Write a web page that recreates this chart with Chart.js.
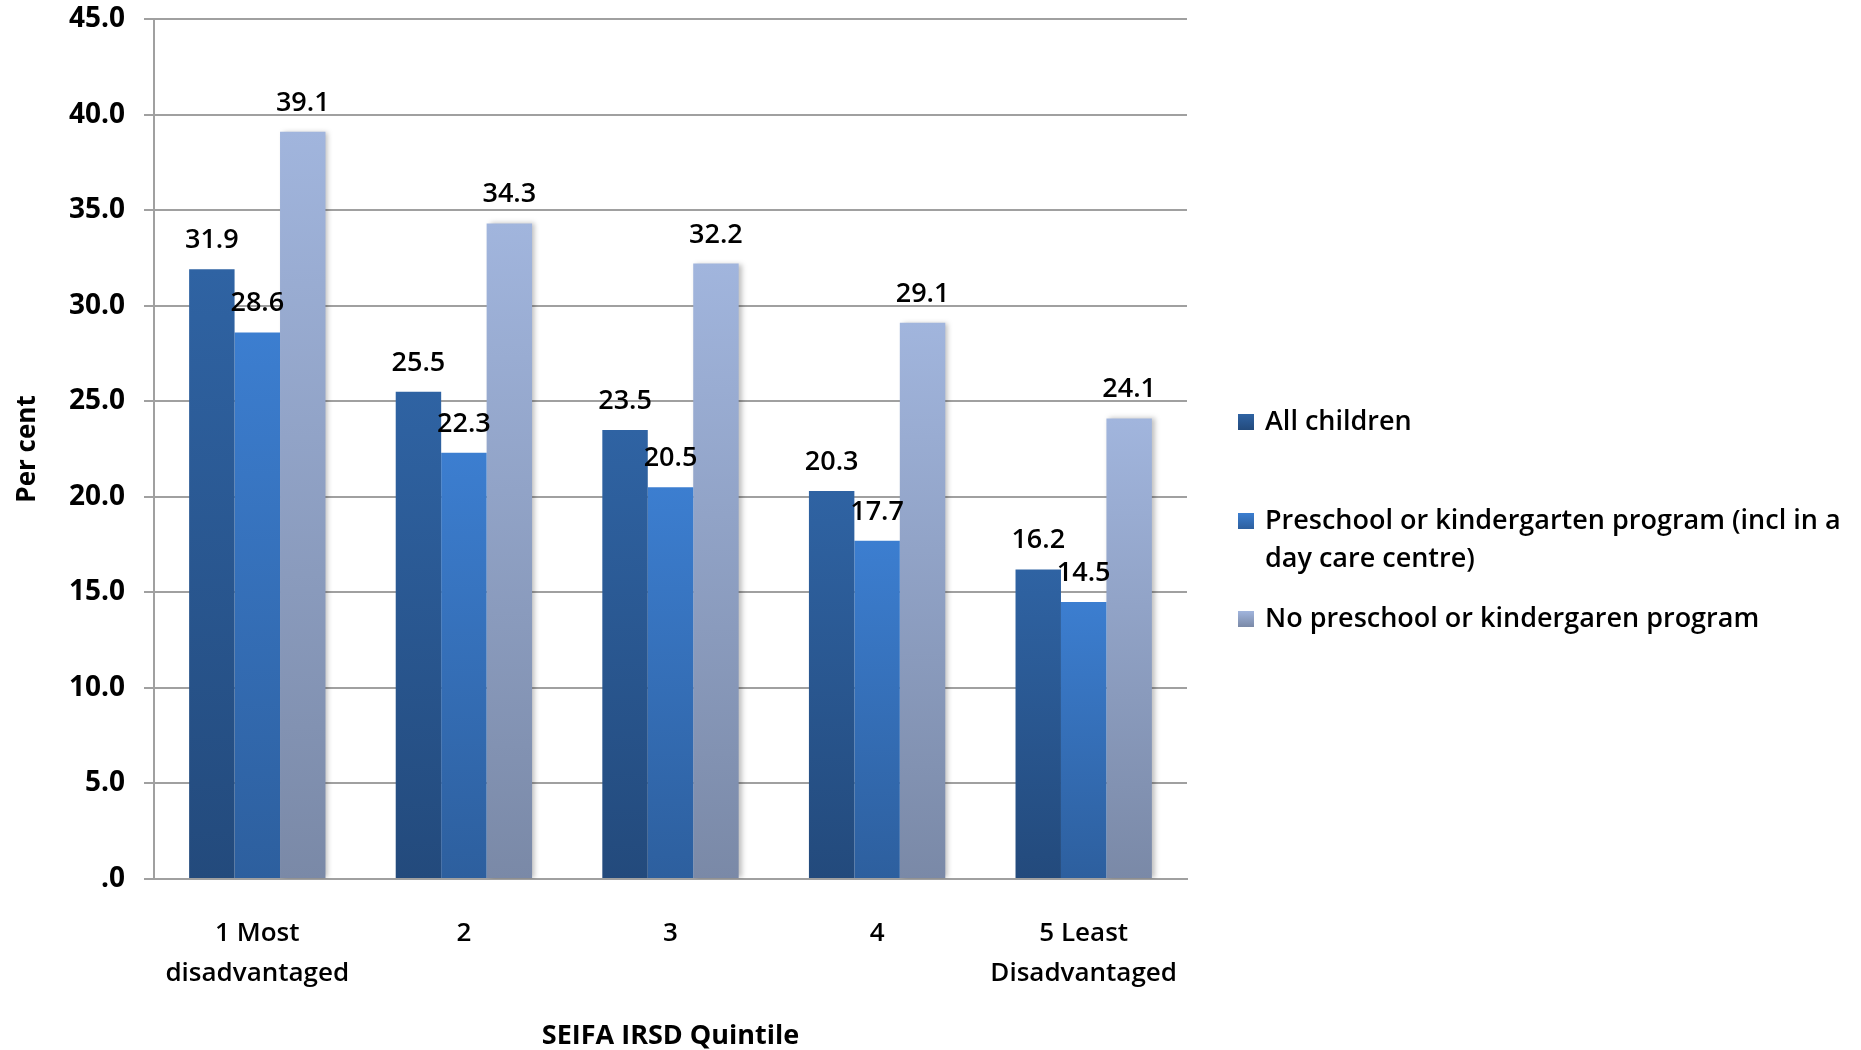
<!DOCTYPE html>
<html>
<head>
<meta charset="utf-8">
<script src="https://cdn.jsdelivr.net/npm/chart.js@4.4.1/dist/chart.umd.min.js"></script>
<style>
  html, body { margin: 0; padding: 0; background: #fff; }
  #wrap { width: 1861px; height: 1050px; }
</style>
</head>
<body>
<div id="wrap"><canvas id="chart"></canvas></div>
<script>
  // data
  const quintiles = [['1 Most', 'disadvantaged'], '2', '3', '4', ['5 Least', 'Disadvantaged']];
  const allChildren = [31.9, 25.5, 23.5, 20.3, 16.2];
  const preschool = [28.6, 22.3, 20.5, 17.7, 14.5];
  const noPreschool = [39.1, 34.3, 32.2, 29.1, 24.1];
  const seriesNames = [
    'All children',
    'Preschool or kindergarten program (incl in a day care centre)',
    'No preschool or kindergaren program'
  ];
  const legendLines = [
    ['All children'],
    ['Preschool or kindergarten program (incl in a', 'day care centre)'],
    ['No preschool or kindergaren program']
  ];
  const yMin = 0, yMax = 45, yStep = 5;

  const FONT = '"Open Sans"';
  const colors = [
    ['#2f63a3', '#234a7c'],
    ['#3c7ed0', '#2d5f9e'],
    ['#a1b5dd', '#7a89a7']
  ];

  function barFill(top, bottom) {
    return (c) => {
      const chart = c.chart;
      if (!chart.chartArea || c.type !== 'data') return top;
      const y = chart.scales.y;
      const g = chart.ctx.createLinearGradient(0, y.getPixelForValue(c.parsed.y), 0, y.getPixelForValue(0));
      g.addColorStop(0, top);
      g.addColorStop(1, bottom);
      return g;
    };
  }

  const barShadow = {
    id: 'barShadow',
    beforeDatasetDraw(chart, args) {
      const ctx = chart.ctx;
      ctx.save();
      if (args.index === 2) {
        ctx.shadowColor = 'rgba(0,0,0,0.25)';
        ctx.shadowBlur = 5;
        ctx.shadowOffsetX = 3;
      }
    },
    afterDatasetDraw(chart) {
      chart.ctx.restore();
    }
  };

  const valueLabels = {
    id: 'valueLabels',
    afterDatasetsDraw(chart) {
      const ctx = chart.ctx;
      ctx.save();
      ctx.font = `600 27px ${FONT}`;
      ctx.fillStyle = '#000';
      ctx.textAlign = 'center';
      ctx.textBaseline = 'alphabetic';
      chart.data.datasets.forEach((ds, i) => {
        chart.getDatasetMeta(i).data.forEach((bar, j) => {
          ctx.fillText(ds.data[j].toFixed(1), bar.x, bar.y - 21);
        });
      });
      ctx.restore();
    }
  };

  const sideLegend = {
    id: 'sideLegend',
    afterDraw(chart) {
      const ctx = chart.ctx;
      const area = chart.chartArea;
      const boxX = area.right + 51, textX = area.right + 78;
      const rows = [422, 521, 619];
      ctx.save();
      ctx.font = `600 27px ${FONT}`;
      ctx.textBaseline = 'middle';
      legendLines.forEach((lines, i) => {
        const y = rows[i];
        const g = ctx.createLinearGradient(0, y - 8, 0, y + 8);
        g.addColorStop(0, colors[i][0]);
        g.addColorStop(1, colors[i][1]);
        ctx.fillStyle = g;
        ctx.fillRect(boxX, y - 8, 16, 16);
        ctx.fillStyle = '#000';
        lines.forEach((t, k) => ctx.fillText(t, textX, y + k * 38));
      });
      ctx.restore();
    }
  };

  new Chart(document.getElementById('chart'), {
    type: 'bar',
    data: {
      labels: quintiles,
      datasets: [allChildren, preschool, noPreschool].map((d, i) => ({
        label: seriesNames[i],
        data: d,
        backgroundColor: barFill(colors[i][0], colors[i][1]),
        borderWidth: 0,
        categoryPercentage: 0.66,
        barPercentage: 1
      }))
    },
    options: {
      responsive: true,
      maintainAspectRatio: false,
      animation: false,
      layout: { padding: { left: 0, top: 19, right: 674, bottom: 0 } },
      plugins: {
        legend: { display: false },
        tooltip: { enabled: false }
      },
      scales: {
        x: {
          grid: { display: false, drawTicks: false },
          border: { display: true, color: '#a0a0a0', width: 2 },
          ticks: {
            color: '#000',
            font: { family: FONT, size: 26, weight: '600', lineHeight: 1.55 },
            padding: 34,
            maxRotation: 0,
            autoSkip: false
          },
          title: {
            display: true,
            text: 'SEIFA IRSD Quintile',
            color: '#000',
            font: { family: FONT, size: 27, weight: 'bold', lineHeight: 1.0 },
            padding: { top: 0, bottom: 0 }
          },
          afterFit: s => { s.height = 171; }
        },
        y: {
          min: yMin,
          max: yMax,
          ticks: {
            stepSize: yStep,
            color: '#000',
            font: { family: FONT, size: 28, weight: 'bold' },
            padding: 19,
            callback: v => v === 0 ? '.0' : v.toFixed(1)
          },
          grid: { color: '#a0a0a0', lineWidth: 2, tickLength: 10, drawTicks: true },
          border: { color: '#a0a0a0', width: 2 },
          title: {
            display: true,
            text: 'Per cent',
            color: '#000',
            font: { family: FONT, size: 26, weight: 'bold' },
            padding: { top: 12, bottom: 0 }
          },
          afterFit: s => { s.width = 154; s.paddingTop = 0; s.paddingBottom = 0; }
        }
      }
    },
    plugins: [barShadow, valueLabels, sideLegend]
  });
</script>
</body>
</html>
